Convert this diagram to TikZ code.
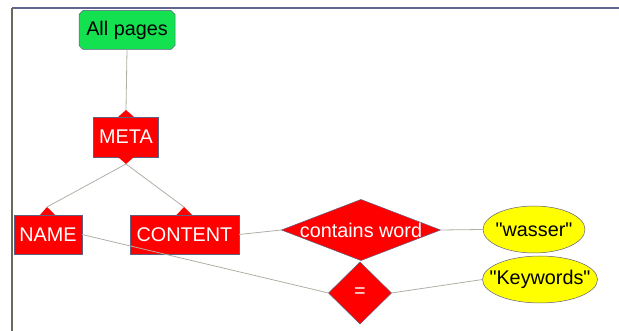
\documentclass[tikz,border=0pt]{standalone}
\usepackage{fontspec}
\setmainfont{Liberation Sans}
\usepackage{tikz}
\usetikzlibrary{shapes.geometric}
\usetikzlibrary{shapes.misc}
\definecolor{leafgreen}{RGB}{20,225,80}
\definecolor{opred}{RGB}{255,0,0}
\definecolor{valyellow}{RGB}{255,255,0}
\definecolor{linkgray}{RGB}{175,175,165}
\definecolor{rimblue}{RGB}{95,95,130}
\definecolor{frameblue}{RGB}{100,100,145}
\definecolor{frameolive}{RGB}{105,105,85}

\begin{document}
\begin{tikzpicture}[x=1pt,y=-1pt,every node/.style={font=\fontsize{19.8}{23}\selectfont,inner sep=0pt,outer sep=0pt,align=center},
  rootbox/.style={chamfered rectangle,chamfered rectangle xsep=2pt,chamfered rectangle ysep=2pt,fill=leafgreen,draw=rimblue,line width=.5pt,text=black},
  opbox/.style={rectangle,fill=opred,draw=rimblue,line width=.5pt,text=white},
  opdiamond/.style={diamond,fill=opred,draw=rimblue,line width=.5pt,text=white},
  valoval/.style={ellipse,fill=valyellow,draw=rimblue,line width=.5pt,text=black},
  link/.style={draw=linkgray,line width=.8pt}]
\useasboundingbox (0,0) rectangle (619,331);
% frame
\draw[frameblue,line width=2pt] (12,8) -- (619,8);
\draw[frameolive,line width=1.5pt] (12,8) -- (12,331);
% nodes
\node[rootbox,minimum width=96pt,minimum height=39pt] (allpages) at (127,30) {All pages};
\node[opbox,minimum width=65pt,minimum height=40pt] (meta) at (126,137) {META};
\node[opbox,minimum width=68pt,minimum height=39pt] (name) at (48,234.5) {NAME};
\node[opbox,minimum width=109pt,minimum height=39pt] (content) at (184.5,234.5) {CONTENT};
\node[opdiamond,minimum width=159pt,minimum height=61pt] (contains) at (361,230) {\makebox[0pt]{contains word}};
\node[opdiamond,minimum width=63pt,minimum height=62pt] (equal) at (360,293) {\makebox[0pt]{=}};
\node[valoval,minimum width=102pt,minimum height=47pt] (wasser) at (534,229.5) {\makebox[0pt]{\textquotedbl wasser\textquotedbl}};
\node[valoval,minimum width=115pt,minimum height=47pt] (keywords) at (540,279.5) {\makebox[0pt]{\textquotedbl Keywords\textquotedbl}};
% notches
\coordinate (metatop) at (126,110);
\coordinate (metabot) at (126,164);
\coordinate (nametop) at (47,207);
\coordinate (contenttop) at (184,207);
\fill[opred] (meta.north) ++(-8,0) -- (metatop) -- ++(8,7) -- cycle;
\fill[opred] (meta.south) ++(-8,0) -- (metabot) -- ++(8,-7) -- cycle;
\fill[opred] (name.north) ++(-8,0) -- (nametop) -- ++(8,8) -- cycle;
\fill[opred] (content.north) ++(-8,0) -- (contenttop) -- ++(8,8) -- cycle;
% links
\draw[link] (allpages.south) -- (metatop);
\draw[link] (metabot) -- (nametop);
\draw[link] (metabot) -- (contenttop);
\draw[link] (content.east) -- (contains.west);
\draw[link] (contains.east) -- (wasser.west);
\draw[link] (name.east) -- (equal.west);
\draw[link] (equal.east) -- (keywords.west);
\end{tikzpicture}
\end{document}
